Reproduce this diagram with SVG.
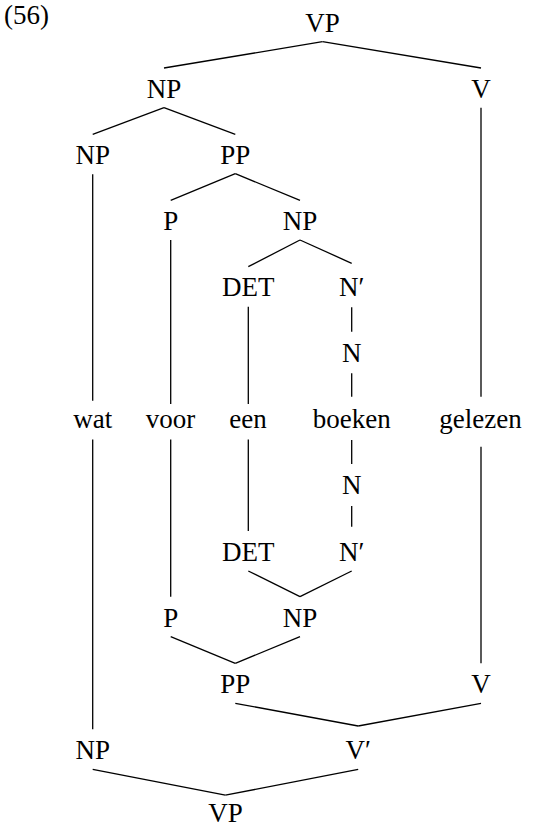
<svg xmlns="http://www.w3.org/2000/svg" width="534" height="828" viewBox="0 0 534 828">
<style>
  text { font-family: "Liberation Serif", "DejaVu Serif", serif; font-size: 27px; fill: #000; text-anchor: middle; }
  #ex text { text-anchor: start; }
  #connectors line { stroke: #000; stroke-width: 1.3; stroke-linecap: butt; }
</style>
<rect x="0" y="0" width="534" height="828" fill="#fff"/>
<g id="ex"><text x="4" y="24">(56)</text></g>

<g id="connectors">
  <!-- top tree -->
  <line x1="322.5" y1="41.7" x2="164" y2="68"/>
  <line x1="322.5" y1="41.7" x2="481" y2="68"/>
  <line x1="164" y1="107.7" x2="92.7" y2="134.3"/>
  <line x1="164" y1="107.7" x2="235.3" y2="134.3"/>
  <line x1="481" y1="107.7" x2="481" y2="396.7"/>
  <line x1="92.7" y1="174.3" x2="92.7" y2="400.7"/>
  <line x1="235.3" y1="173.7" x2="170.7" y2="200.3"/>
  <line x1="235.3" y1="173.7" x2="300" y2="200.3"/>
  <line x1="170.7" y1="240" x2="170.7" y2="404"/>
  <line x1="300" y1="240" x2="248.3" y2="266.7"/>
  <line x1="300" y1="240" x2="351.7" y2="263.3"/>
  <line x1="248.3" y1="306.7" x2="248.3" y2="404"/>
  <line x1="351.7" y1="307.3" x2="351.7" y2="331.7"/>
  <line x1="351.7" y1="373.3" x2="351.7" y2="396.7"/>
  <!-- bottom tree -->
  <line x1="351.7" y1="440" x2="351.7" y2="464"/>
  <line x1="351.7" y1="506" x2="351.7" y2="526.7"/>
  <line x1="248.3" y1="439.5" x2="248.3" y2="531"/>
  <line x1="248.3" y1="571" x2="300" y2="596.7"/>
  <line x1="351.7" y1="571" x2="300" y2="596.7"/>
  <line x1="170.7" y1="439.5" x2="170.7" y2="596.7"/>
  <line x1="170.7" y1="636.7" x2="235.3" y2="663.3"/>
  <line x1="300" y1="636.7" x2="235.3" y2="663.3"/>
  <line x1="481" y1="446.7" x2="481" y2="663.3"/>
  <line x1="235.3" y1="703.3" x2="358.2" y2="726"/>
  <line x1="481" y1="703.3" x2="358.2" y2="726"/>
  <line x1="92.7" y1="439.5" x2="92.7" y2="729.3"/>
  <line x1="92.7" y1="769.3" x2="225.4" y2="795.2"/>
  <line x1="358.2" y1="769.3" x2="225.4" y2="795.2"/>
</g>

<!-- top tree nodes -->
<g id="vp-top"><text x="322.5" y="31.7">VP</text></g>
<g id="np-top"><text x="164" y="97.8">NP</text></g>
<g id="v-top"><text x="481" y="97.8">V</text></g>
<g id="np-wat-top"><text x="92.7" y="163.9">NP</text></g>
<g id="pp-top"><text x="235.3" y="163.9">PP</text></g>
<g id="p-top"><text x="170.7" y="230">P</text></g>
<g id="np-inner-top"><text x="300" y="230">NP</text></g>
<g id="det-top"><text x="248.3" y="296.1">DET</text></g>
<g id="nbar-top"><text x="351.7" y="296.1">N′</text></g>
<g id="n-top"><text x="351.7" y="362.2">N</text></g>

<!-- words -->
<g id="w-wat"><text x="92.7" y="428.3">wat</text></g>
<g id="w-voor"><text x="170.5" y="428.3">voor</text></g>
<g id="w-een"><text x="248" y="428.3">een</text></g>
<g id="w-boeken"><text x="351.7" y="428.3">boeken</text></g>
<g id="w-gelezen"><text x="480.5" y="428.3">gelezen</text></g>

<!-- bottom tree nodes -->
<g id="n-bot"><text x="351.7" y="494.4">N</text></g>
<g id="det-bot"><text x="248.3" y="560.5">DET</text></g>
<g id="nbar-bot"><text x="351.7" y="560.5">N′</text></g>
<g id="p-bot"><text x="170.7" y="626.6">P</text></g>
<g id="np-inner-bot"><text x="300" y="626.6">NP</text></g>
<g id="pp-bot"><text x="235.3" y="692.7">PP</text></g>
<g id="v-bot"><text x="481" y="692.7">V</text></g>
<g id="np-wat-bot"><text x="92.7" y="758.8">NP</text></g>
<g id="vbar-bot"><text x="358.2" y="758.8">V′</text></g>
<g id="vp-bot"><text x="225.4" y="821.5">VP</text></g>
</svg>
